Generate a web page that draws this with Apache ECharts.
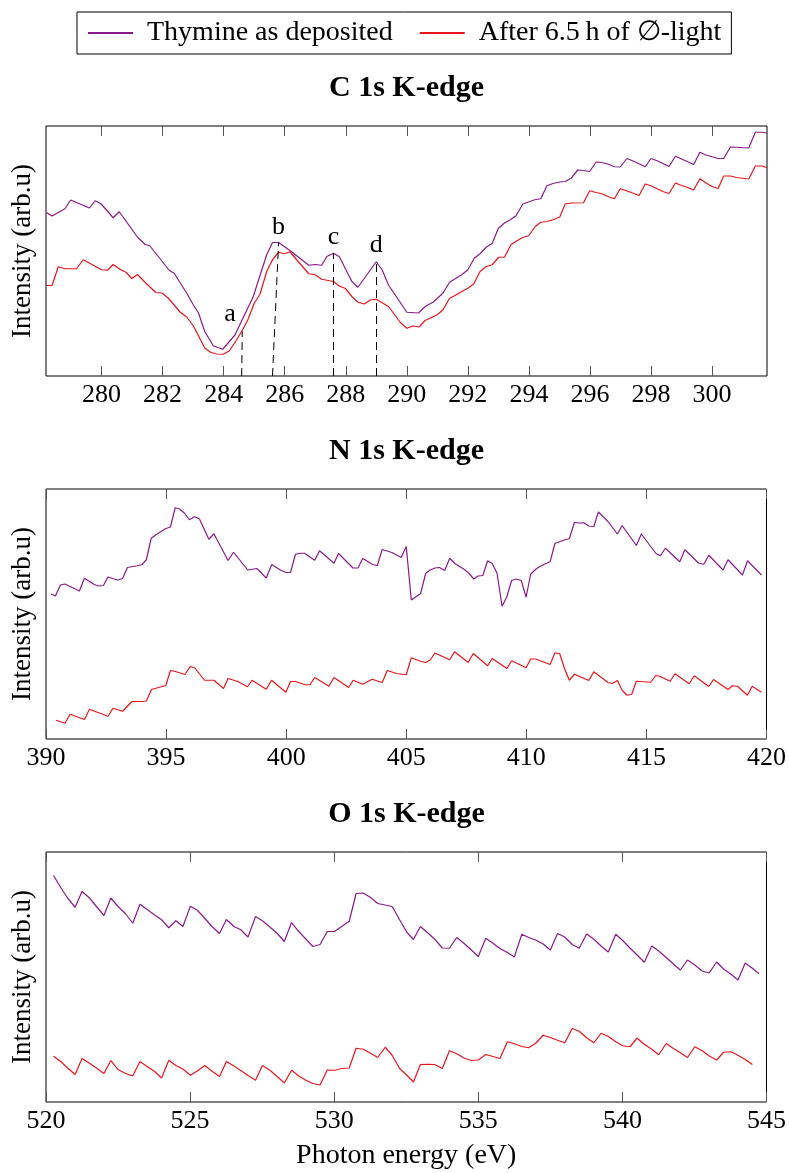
<!DOCTYPE html>
<html>
<head>
<meta charset="utf-8">
<title>Thymine NEXAFS K-edges</title>
<script src="https://cdn.jsdelivr.net/npm/echarts@6/dist/echarts.min.js"></script>
<style>
  html, body { margin: 0; padding: 0; background: #fff; }
  #chart { width: 789px; height: 1173px; }
</style>
</head>
<body>
<div id="chart"></div>
<script>
// Spectra: [photon energy (eV), intensity (arb. u., 0-100 scale)]
const seriesNames = ['Thymine as deposited', 'After 6.5\u2009h of \u2205-light'];

// C 1s K-edge
const cThymine = [[278.19,65.4],[278.38,64.0],[278.80,66.9],[278.99,70.4],[279.60,67.2],[279.79,70.1],[279.99,68.8],[280.38,63.3],[280.58,65.7],[281.18,55.5],[281.43,52.6],[281.58,52.1],[282.22,42.2],[282.38,41.1],[282.79,33.1],[283.01,28.4],[283.18,25.1],[283.38,17.8],[283.66,12.1],[283.97,10.7],[284.37,16.4],[284.97,31.8],[285.41,48.5],[285.60,53.4],[285.80,53.4],[286.17,50.2],[286.79,44.3],[287.00,44.6],[287.21,44.3],[287.38,47.8],[287.60,49.1],[287.79,47.7],[288.20,37.8],[288.40,35.5],[289.00,45.7],[289.19,42.5],[289.40,36.4],[290.00,25.5],[290.38,25.2],[290.60,27.8],[290.87,29.6],[291.18,33.1],[291.40,37.5],[291.80,40.5],[292.00,42.5],[292.21,47.1],[292.40,48.9],[292.60,51.5],[292.80,53.1],[293.00,59.1],[293.19,61.1],[293.39,62.5],[293.58,64.1],[293.80,68.8],[293.99,69.6],[294.19,70.5],[294.39,70.9],[294.59,76.1],[294.79,77.0],[295.01,77.6],[295.19,77.8],[295.39,79.2],[295.60,82.4],[295.79,82.2],[295.99,81.8],[296.20,85.6],[296.39,85.4],[296.59,84.8],[296.80,83.7],[296.99,83.6],[297.21,87.0],[297.41,86.0],[297.61,84.9],[297.81,83.7],[298.00,87.0],[298.20,86.1],[298.39,85.0],[298.59,83.8],[298.80,87.9],[299.00,86.8],[299.20,85.7],[299.40,84.6],[299.60,89.5],[299.78,88.5],[300.00,87.7],[300.20,87.0],[300.38,87.0],[300.60,91.6],[300.80,91.5],[301.20,91.2],[301.42,97.5],[301.64,97.5],[301.80,97.2]];
const cIrradiated = [[278.19,36.2],[278.38,36.2],[278.58,43.7],[278.80,42.9],[279.18,42.9],[279.40,46.5],[280.00,42.5],[280.20,42.3],[280.38,44.6],[280.60,42.7],[280.80,41.5],[280.99,39.0],[281.18,40.6],[281.37,38.1],[281.78,33.4],[281.98,33.2],[282.19,31.1],[282.57,25.6],[282.79,23.6],[283.01,20.0],[283.18,16.0],[283.38,11.2],[283.57,9.5],[283.77,8.8],[283.99,8.7],[284.18,10.0],[284.37,13.4],[284.59,17.8],[284.79,22.4],[285.00,29.1],[285.19,32.7],[285.41,41.8],[285.60,46.5],[285.80,49.5],[285.99,48.9],[286.17,49.7],[286.39,46.5],[286.79,40.9],[287.00,40.5],[287.21,38.7],[287.60,37.8],[287.79,36.0],[287.99,35.0],[288.20,31.8],[288.40,29.5],[288.61,28.8],[288.80,30.4],[289.00,30.7],[289.40,27.8],[289.79,21.4],[290.00,19.1],[290.20,20.0],[290.40,19.6],[290.60,22.2],[290.98,24.4],[291.18,26.4],[291.40,31.1],[291.58,32.2],[291.80,33.8],[292.00,35.1],[292.19,36.8],[292.40,41.8],[292.60,43.8],[292.80,44.5],[293.01,47.5],[293.20,47.5],[293.41,52.5],[293.61,54.1],[293.80,55.4],[293.99,56.1],[294.21,59.8],[294.39,61.5],[294.59,61.8],[294.79,62.5],[295.01,63.6],[295.19,68.8],[295.39,69.2],[295.79,69.3],[295.99,74.1],[296.20,73.4],[296.39,72.9],[296.59,71.8],[296.80,70.9],[296.99,74.9],[297.19,74.1],[297.40,73.2],[297.61,72.2],[297.81,76.8],[298.00,76.1],[298.20,74.9],[298.39,73.8],[298.59,73.0],[298.80,77.2],[299.00,76.2],[299.20,75.4],[299.40,74.4],[299.60,78.9],[299.78,77.4],[300.00,75.8],[300.20,75.0],[300.38,80.0],[300.60,80.0],[300.80,79.4],[301.20,78.8],[301.42,84.0],[301.64,84.0],[301.80,83.3]];

// N 1s K-edge
const nThymine = [[390.21,58.0],[390.39,57.2],[390.60,61.6],[390.79,62.0],[391.39,59.2],[391.60,64.3],[391.99,61.9],[392.19,61.2],[392.39,61.4],[392.58,64.8],[392.99,63.6],[393.19,64.2],[393.39,68.6],[393.79,69.3],[393.99,69.7],[394.18,71.7],[394.38,80.3],[394.58,81.7],[394.97,84.1],[395.18,84.8],[395.38,92.5],[395.56,92.0],[395.76,90.4],[395.97,87.7],[396.19,88.9],[396.39,88.0],[396.78,79.9],[396.99,82.1],[397.58,71.4],[397.81,74.7],[398.40,67.6],[398.78,68.2],[399.17,64.4],[399.40,69.8],[399.79,67.4],[400.00,66.6],[400.18,66.6],[400.39,73.9],[400.56,74.3],[400.76,74.3],[401.19,71.5],[401.39,75.3],[401.99,70.3],[402.18,74.2],[402.78,68.4],[402.99,68.4],[403.19,72.2],[403.58,69.9],[403.79,69.3],[404.00,75.8],[404.40,74.6],[404.79,72.6],[405.00,77.0],[405.21,55.6],[405.60,58.2],[405.81,66.3],[406.00,67.6],[406.19,68.4],[406.39,68.6],[406.60,67.4],[406.81,72.3],[407.01,70.3],[407.39,68.0],[407.61,66.3],[407.81,64.0],[407.99,65.2],[408.19,65.4],[408.39,71.3],[408.58,70.2],[408.78,66.3],[408.99,53.1],[409.18,56.7],[409.39,63.4],[409.58,64.0],[409.79,63.4],[409.99,56.7],[410.18,65.9],[410.39,67.9],[410.58,69.1],[410.79,70.1],[410.99,70.9],[411.19,78.2],[411.60,79.7],[411.79,80.1],[412.00,86.6],[412.19,86.4],[412.40,86.5],[412.60,85.2],[412.81,85.0],[413.00,90.8],[413.40,87.0],[413.79,82.0],[413.99,85.4],[414.58,77.4],[414.79,82.0],[415.39,74.3],[415.58,73.3],[415.79,76.3],[416.39,70.9],[416.60,75.7],[417.18,70.3],[417.39,69.9],[417.60,73.5],[418.19,67.6],[418.40,71.7],[419.00,65.6],[419.21,71.3],[419.79,65.6]];
const nIrradiated = [[390.42,7.5],[390.79,6.3],[391.00,9.9],[391.60,7.8],[391.81,11.9],[392.58,9.1],[392.79,12.3],[393.19,11.1],[393.58,15.0],[393.99,15.0],[394.18,15.2],[394.39,19.8],[394.99,21.4],[395.18,27.4],[395.39,27.0],[395.79,25.8],[396.00,29.0],[396.19,28.5],[396.60,23.5],[396.99,23.5],[397.39,20.2],[397.58,24.2],[397.99,23.0],[398.39,20.9],[398.58,23.5],[399.17,19.9],[399.39,23.5],[399.99,18.7],[400.18,23.0],[400.39,23.0],[400.79,21.7],[400.99,21.7],[401.19,24.6],[401.78,21.1],[401.99,24.6],[402.60,20.6],[402.79,23.5],[403.19,21.9],[403.58,23.9],[404.00,22.6],[404.21,27.4],[404.60,26.2],[405.00,25.7],[405.21,32.5],[405.60,31.1],[405.81,30.6],[406.00,31.6],[406.19,34.4],[406.81,31.7],[407.01,34.9],[407.58,30.6],[407.79,34.2],[408.39,29.3],[408.58,32.2],[409.19,28.2],[409.39,31.3],[409.99,28.5],[410.18,32.0],[410.39,32.0],[410.99,29.8],[411.19,34.5],[411.39,34.1],[411.60,27.9],[411.79,23.5],[412.00,25.9],[412.60,23.4],[412.81,26.9],[413.40,22.6],[413.58,22.2],[413.79,23.4],[413.99,19.5],[414.19,17.5],[414.39,17.9],[414.58,23.1],[415.18,22.7],[415.39,25.4],[415.58,25.0],[415.99,23.1],[416.19,26.1],[416.78,22.1],[416.99,25.3],[417.60,21.0],[417.79,23.8],[418.40,19.8],[418.58,21.3],[418.79,21.1],[419.21,17.5],[419.40,21.1],[419.79,18.7]];

// O 1s K-edge
const oThymine = [[520.26,90.6],[520.52,85.6],[520.75,81.6],[521.01,77.9],[521.25,84.2],[521.51,81.6],[522.01,74.6],[522.25,81.6],[522.50,78.2],[522.76,75.3],[523.01,71.5],[523.26,79.1],[523.76,74.9],[524.01,72.9],[524.26,69.7],[524.51,72.5],[524.75,70.2],[525.01,78.3],[525.25,76.7],[525.51,73.5],[525.76,70.2],[526.02,67.4],[526.26,73.0],[526.52,70.2],[526.76,68.9],[527.01,66.0],[527.27,74.2],[527.51,72.5],[528.01,67.6],[528.27,64.2],[528.52,71.8],[528.77,68.2],[529.26,62.2],[529.51,63.0],[529.76,68.2],[530.01,68.2],[530.52,72.3],[530.76,83.4],[531.01,83.6],[531.26,81.8],[531.51,79.4],[532.01,78.2],[532.27,72.9],[532.52,67.9],[532.75,65.0],[532.99,70.2],[533.25,67.6],[533.49,65.1],[533.75,61.6],[534.00,61.5],[534.25,65.8],[534.50,63.5],[534.76,60.8],[535.00,58.2],[535.26,65.5],[535.51,63.5],[535.75,61.4],[536.01,59.8],[536.25,58.0],[536.51,67.1],[536.75,65.8],[537.01,64.7],[537.25,63.2],[537.50,60.8],[537.75,67.4],[538.00,66.0],[538.26,63.0],[538.50,61.5],[538.76,67.2],[539.01,65.1],[539.26,62.4],[539.51,60.0],[539.77,67.1],[540.01,64.6],[540.26,61.6],[540.51,58.8],[540.76,55.9],[541.02,62.4],[541.26,60.4],[541.52,57.8],[541.76,55.3],[542.01,52.8],[542.26,56.8],[542.51,54.8],[542.77,52.4],[543.01,51.6],[543.27,56.0],[543.51,53.2],[543.77,51.1],[544.01,48.8],[544.26,55.6],[544.51,53.5],[544.74,51.3]];
const oIrradiated = [[520.26,18.3],[520.50,16.3],[520.75,13.6],[521.01,11.0],[521.25,17.4],[521.51,15.5],[521.75,13.6],[522.01,11.4],[522.25,16.6],[522.50,13.0],[522.76,11.4],[523.01,10.4],[523.26,16.2],[523.51,14.2],[523.76,12.3],[524.01,9.6],[524.26,16.7],[524.51,14.6],[524.75,13.2],[525.01,10.7],[525.25,12.4],[525.51,14.6],[525.76,12.3],[526.02,10.2],[526.26,16.2],[526.52,14.4],[526.76,12.6],[527.01,10.6],[527.27,8.7],[527.51,14.6],[527.77,12.7],[528.01,10.3],[528.27,7.6],[528.52,12.7],[528.77,10.4],[529.02,8.7],[529.26,7.4],[529.51,6.8],[529.76,12.8],[530.01,12.7],[530.26,13.4],[530.52,13.6],[530.76,21.5],[531.01,21.1],[531.26,19.5],[531.51,17.8],[531.77,21.9],[532.01,18.7],[532.27,13.4],[532.52,10.7],[532.75,8.0],[532.99,15.0],[533.25,15.1],[533.49,15.0],[533.75,13.4],[534.00,20.5],[534.25,19.3],[534.50,17.6],[534.76,16.6],[535.00,16.8],[535.26,19.0],[535.51,18.2],[535.75,17.4],[536.01,24.1],[536.25,23.3],[536.51,22.2],[536.75,21.7],[537.01,23.7],[537.25,26.7],[537.50,25.8],[537.75,24.7],[538.00,23.7],[538.26,29.4],[538.50,28.3],[538.76,25.7],[539.01,23.7],[539.26,27.5],[539.51,26.2],[539.77,24.1],[540.01,22.5],[540.26,22.1],[540.51,25.5],[540.76,23.1],[541.02,21.1],[541.26,18.9],[541.52,23.4],[541.76,21.5],[542.01,19.7],[542.26,17.8],[542.51,22.1],[542.77,20.5],[543.01,18.4],[543.27,16.8],[543.51,19.9],[543.77,20.1],[544.01,18.7],[544.26,17.0],[544.51,15.0]];

// Panel titles, energy ranges and tick labels
const panelTitles = ['C 1s K-edge', 'N 1s K-edge', 'O 1s K-edge'];
const energyRanges = [[278.18, 301.8], [390, 420], [520, 545]];
const cTicks = [280, 282, 284, 286, 288, 290, 292, 294, 296, 298, 300];
const nTicks = [390, 395, 400, 405, 410, 415, 420];
const oTicks = [520, 525, 530, 535, 540, 545];

// C 1s resonance markers: foot energy on the axis, tip on the curve, label anchor
const peakNames = ['a', 'b', 'c', 'd'];
const peakFoot = [284.59, 285.60, 287.60, 289.00];
const peakTip = [[284.61, 17.8], [285.80, 53.4], [287.60, 49.1], [289.00, 45.7]];
const peakLabel = [[284.21, 24.8], [285.80, 59.6], [287.60, 55.6], [289.00, 52.2]];

const FONT = 'Liberation Serif';
const colors = ['#8a1a8c', '#e8161b'];
const panels = [
  { data: [cThymine, cIrradiated], ticks: cTicks },
  { data: [nThymine, nIrradiated], ticks: nTicks },
  { data: [oThymine, oIrradiated], ticks: oTicks }
];
const gridTops = [126, 489, 852];

// Text style helper: one serif face for every label
const txt = (size, extra) => Object.assign({ fontFamily: FONT, fontSize: size, color: '#000',
  fontWeight: 'normal', fontStyle: 'normal' }, extra || {});

const grids = [], xAxes = [], yAxes = [], series = [], graphics = [];
panels.forEach((p, i) => {
  grids.push({ left: 46, right: 22, top: gridTops[i], height: 250, show: true,
    borderColor: '#000', borderWidth: 1, backgroundColor: 'transparent' });
  const tickStyle = { show: true, inside: true, length: 10, customValues: p.ticks,
    lineStyle: { color: '#555', width: 1 } };
  xAxes.push({
    type: 'value', gridIndex: i, position: 'bottom',
    min: energyRanges[i][0], max: energyRanges[i][1],
    axisLine: { show: false }, splitLine: { show: false },
    axisTick: tickStyle,
    axisLabel: txt(26, { show: true, customValues: p.ticks, margin: 6, formatter: v => String(v) }),
    name: i === 2 ? 'Photon energy (eV)' : '',
    nameLocation: 'middle', nameGap: 40,
    nameTextStyle: txt(28)
  });
  xAxes.push({
    type: 'value', gridIndex: i, position: 'top',
    min: energyRanges[i][0], max: energyRanges[i][1],
    axisLine: { show: false }, splitLine: { show: false },
    axisTick: tickStyle, axisLabel: { show: false }
  });
  yAxes.push({
    type: 'value', gridIndex: i, min: 0, max: 100,
    axisLine: { show: false }, axisTick: { show: false },
    axisLabel: { show: false }, splitLine: { show: false },
    name: 'Intensity (arb.u)', nameLocation: 'middle', nameGap: 10,
    nameTextStyle: txt(27)
  });
  p.data.forEach((d, k) => {
    const s = {
      name: seriesNames[k], type: 'line', xAxisIndex: i * 2, yAxisIndex: i,
      data: d, symbol: 'none', showSymbol: false, animation: false,
      lineStyle: { color: colors[k], width: 1.2 }, itemStyle: { color: colors[k] },
      z: 3 - k
    };
    if (i === 0 && k === 0) {
      s.markLine = {
        silent: true, symbol: ['none', 'none'], animation: false,
        label: { show: false },
        lineStyle: { color: '#000', width: 1, type: [8, 5] },
        data: peakNames.map((n, j) => [{ coord: [peakFoot[j], 0] }, { coord: peakTip[j] }])
      };
      s.markPoint = {
        symbol: 'circle', symbolSize: 0, animation: false, silent: true,
        label: txt(26, { show: true, position: 'inside', formatter: '{b}' }),
        data: peakNames.map((n, j) => ({ name: n, coord: peakLabel[j] }))
      };
    }
    series.push(s);
  });
  graphics.push({
    type: 'text', x: 406.5, y: gridTops[i] - 38,
    style: { text: panelTitles[i], fill: '#000', textAlign: 'center', textVerticalAlign: 'middle',
      font: 'bold 30px "' + FONT + '"' }
  });
});

const chart = echarts.init(document.getElementById('chart'), null, { renderer: 'canvas' });
chart.setOption({
  backgroundColor: '#fff',
  animation: false,
  textStyle: { fontFamily: FONT },
  legend: {
    data: seriesNames, left: 77, top: 12, orient: 'horizontal',
    padding: [7, 10, 7, 11], itemGap: 27, itemWidth: 45, itemHeight: 2, icon: 'rect',
    borderColor: '#000', borderWidth: 1, selectedMode: false,
    textStyle: txt(28, { padding: [0, 0, 0, 9] })
  },
  grid: grids, xAxis: xAxes, yAxis: yAxes, series: series, graphic: graphics
});
</script>
</body>
</html>
